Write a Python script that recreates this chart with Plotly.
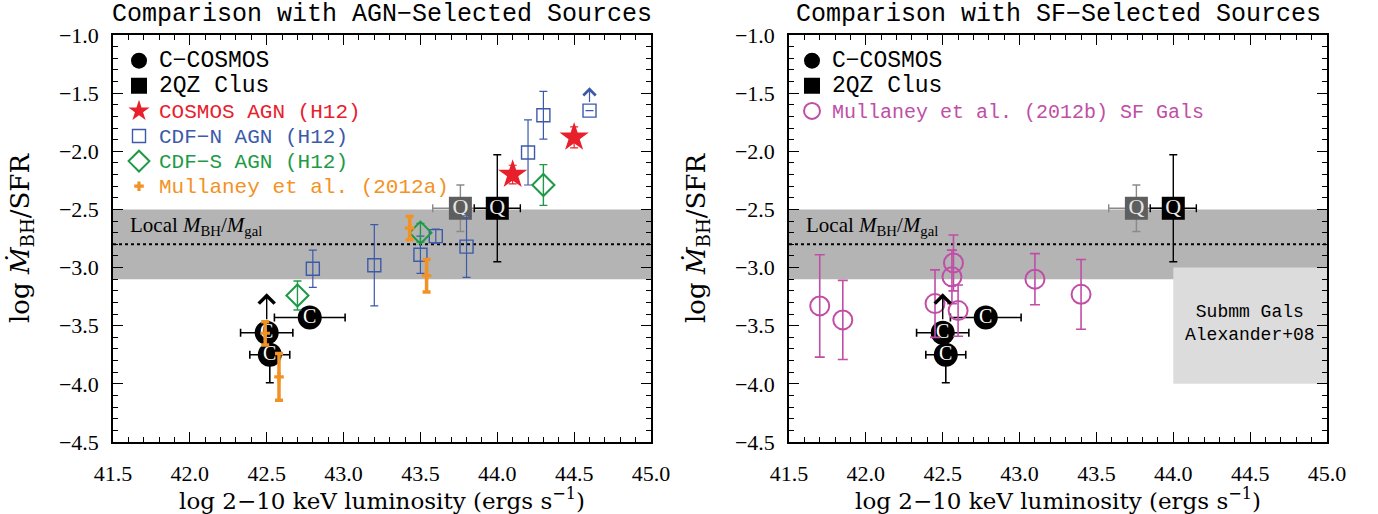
import plotly.graph_objects as go
from plotly.subplots import make_subplots

# ---------------- data ----------------
x_range = [41.5, 45.0]
y_range = [-4.5, -1.0]

# local M_BH/M_gal relation band
local_ratio = -2.8
local_band = [-3.1, -2.5]

# Alexander+08 submm galaxy region
submm_lx = [44.0, 45.0]
submm_ratio = [-4.0, -3.0]

# C-COSMOS
cc_lx = [42.78, 42.50, 42.52]
cc_ratio = [-3.43, -3.56, -3.75]
cc_lx_err = [0.23, 0.17, 0.13]
cc_ratio_err = [0.0, 0.0, 0.24]
cc_limit_idx = [1]
cc_limit_tip = [-3.22]

# 2QZ clustering (grey, black)
q_lx = [43.76, 44.00]
q_ratio = [-2.49, -2.49]
q_lx_err = [0.18, 0.15]
q_ratio_err = [0.20, 0.46]

# COSMOS AGN (H12)
cosmos_lx = [44.10, 44.50]
cosmos_ratio = [-2.20, -1.88]
cosmos_err = [0.08, 0.09]

# CDF-N AGN (H12)
cdfn_lx = [42.80, 43.20, 43.50, 43.60, 43.80, 44.20, 44.30, 44.60]
cdfn_ratio = [-3.01, -2.98, -2.89, -2.73, -2.82, -2.01, -1.69, -1.65]
cdfn_err = [0.16, 0.35, 0.16, 0.06, 0.265, 0.28, 0.205, 0.0]
cdfn_limit_idx = [7]
cdfn_limit_tip = [-1.45]

# CDF-S AGN (H12)
cdfs_lx = [42.70, 43.50, 44.30]
cdfs_ratio = [-3.24, -2.70, -2.29]
cdfs_err = [0.125, 0.08, 0.175]

# Mullaney et al. (2012a)
m12a_lx = [42.49, 42.58, 43.43, 43.54]
m12a_ratio = [-3.565, -3.94, -2.66, -3.07]
m12a_err = [0.10, 0.20, 0.10, 0.14]

# Mullaney et al. (2012b) SF galaxies
m12b_lx = [41.70, 41.85, 42.45, 42.57, 42.56, 42.60, 43.10, 43.40]
m12b_ratio = [-3.33, -3.45, -3.31, -2.96, -3.08, -3.37, -3.10, -3.23]
m12b_err = [0.44, 0.34, 0.29, 0.24, 0.23, 0.22, 0.22, 0.30]

# ---------------- styles ----------------
RED = "#E8202C"
BLUE = "#3C5AAA"
GREEN = "#1E9A46"
ORANGE = "#F39224"
MAGENTA = "#C04EA6"
QGREY = "#5E5E5E"
MONO = "Liberation Mono"
SERIF = "Liberation Serif"
WSERIF = "DejaVu Serif"

W, H = 1378, 514
L_DOM = [113 / W, 651 / W]
R_DOM = [789 / W, 1327 / W]

fig = make_subplots(rows=1, cols=2)


def add_c_cosmos(col, legend, show):
    fig.add_trace(go.Scatter(
        x=cc_lx, y=cc_ratio, mode="markers",
        name="<span style='font-size:23px'>C−COSMOS</span>",
        legend=legend, showlegend=show,
        marker=dict(symbol="circle", size=24, color="black"),
        error_x=dict(type="data", array=cc_lx_err, color="black", thickness=1.6, width=4),
        error_y=dict(type="data", array=cc_ratio_err, color="black", thickness=1.6, width=4),
    ), row=1, col=col)
    fig.add_trace(go.Scatter(
        x=cc_lx, y=cc_ratio, mode="text", text=["C"] * len(cc_lx),
        textfont=dict(family=SERIF, size=20, color="white"),
        showlegend=False, hoverinfo="skip",
    ), row=1, col=col)


def add_q(col, legend, show):
    cols = [(QGREY, "#8A8A8A"), ("black", "black")]
    for i in range(len(q_lx)):
        fc, ec = cols[i]
        fig.add_trace(go.Scatter(
            x=[q_lx[i]], y=[q_ratio[i]], mode="markers",
            name="<span style='font-size:23px'>2QZ Clus</span>",
            legend=legend, showlegend=(show and i == 1),
            marker=dict(symbol="square", size=23, color=fc),
            error_x=dict(type="data", array=[q_lx_err[i]], color=ec, thickness=1.4, width=4),
            error_y=dict(type="data", array=[q_ratio_err[i]], color=ec, thickness=1.4, width=4),
        ), row=1, col=col)
    fig.add_trace(go.Scatter(
        x=q_lx, y=q_ratio, mode="text", text=["Q"] * len(q_lx),
        textfont=dict(family=SERIF, size=22, color="#E6E6E6"),
        showlegend=False, hoverinfo="skip",
    ), row=1, col=col)


# ----- left panel -----
add_c_cosmos(1, "legend", True)
add_q(1, "legend", True)

fig.add_trace(go.Scatter(
    x=cosmos_lx, y=cosmos_ratio, mode="markers",
    name=f"<span style='color:{RED};font-size:21px'>COSMOS AGN (H12)</span>",
    marker=dict(symbol="star", size=22, color=RED, line=dict(width=0)),
    error_y=dict(type="data", array=cosmos_err, color=RED, thickness=1.2, width=4),
), row=1, col=1)

fig.add_trace(go.Scatter(
    x=cdfn_lx, y=cdfn_ratio, mode="markers",
    name=f"<span style='color:{BLUE};font-size:21px'>CDF−N AGN (H12)</span>",
    marker=dict(symbol="square-open", size=13, color=BLUE, line=dict(width=1.4)),
    error_y=dict(type="data", array=cdfn_err, color=BLUE, thickness=1.2, width=4),
), row=1, col=1)

fig.add_trace(go.Scatter(
    x=cdfs_lx, y=cdfs_ratio, mode="markers",
    name=f"<span style='color:{GREEN};font-size:21px'>CDF−S AGN (H12)</span>",
    marker=dict(symbol="diamond-open", size=17, color=GREEN, line=dict(width=2)),
    error_y=dict(type="data", array=cdfs_err, color=GREEN, thickness=1.4, width=4),
), row=1, col=1)

fig.add_trace(go.Scatter(
    x=m12a_lx, y=m12a_ratio, mode="markers",
    name=f"<span style='color:{ORANGE};font-size:21px'>Mullaney et al. (2012a)</span>",
    marker=dict(symbol="cross", size=8, color=ORANGE, line=dict(width=0)),
    error_y=dict(type="data", array=m12a_err, color=ORANGE, thickness=3.5, width=4),
), row=1, col=1)

# ----- right panel -----
add_c_cosmos(2, "legend2", True)
add_q(2, "legend2", True)

fig.add_trace(go.Scatter(
    x=m12b_lx, y=m12b_ratio, mode="markers",
    name=f"<span style='color:{MAGENTA};font-size:20px'>Mullaney et al. (2012b) SF Gals</span>",
    legend="legend2",
    marker=dict(symbol="circle-open", size=19, color=MAGENTA, line=dict(width=2)),
    error_y=dict(type="data", array=m12b_err, color=MAGENTA, thickness=1.6, width=5),
), row=1, col=2)

# ----- shapes: band, relation line, submm box -----
shapes = []
for xr, yr in (("x", "y"), ("x2", "y2")):
    shapes.append(dict(type="rect", xref=f"{xr} domain", yref=yr, x0=0, x1=1,
                       y0=local_band[0], y1=local_band[1], fillcolor="#B4B4B4",
                       line=dict(width=0), layer="below"))
    shapes.append(dict(type="line", xref=f"{xr} domain", yref=yr, x0=0, x1=1,
                       y0=local_ratio, y1=local_ratio,
                       line=dict(color="black", width=2, dash="dot"), layer="below"))
shapes.append(dict(type="rect", xref="x2", yref="y2", x0=submm_lx[0], x1=submm_lx[1],
                   y0=submm_ratio[0], y1=submm_ratio[1], fillcolor="#DCDCDC",
                   line=dict(width=0), layer="below"))

# ----- annotations -----
ann = []
# lower-limit arrows
for xr, yr in (("x", "y"), ("x2", "y2")):
    for k, i in enumerate(cc_limit_idx):
        ann.append(dict(x=cc_lx[i], y=cc_limit_tip[k], ax=cc_lx[i], ay=cc_ratio[i],
                        xref=xr, yref=yr, axref=xr, ayref=yr, text="", showarrow=True,
                        arrowhead=4, arrowsize=2.2, arrowwidth=1.4, arrowcolor="black",
                        startstandoff=12))
for k, i in enumerate(cdfn_limit_idx):
    ann.append(dict(x=cdfn_lx[i], y=cdfn_limit_tip[k], ax=cdfn_lx[i], ay=cdfn_ratio[i],
                    xref="x", yref="y", axref="x", ayref="y", text="", showarrow=True,
                    arrowhead=4, arrowsize=2.0, arrowwidth=1.2, arrowcolor=BLUE,
                    startstandoff=7))
# band labels
for xr, yr in (("x", "y"), ("x2", "y2")):
    ann.append(dict(x=41.6, y=-2.64, xref=xr, yref=yr, xanchor="left", yanchor="middle",
                    text="Local <i>M</i><sub>BH</sub>/<i>M</i><sub>gal</sub>",
                    showarrow=False, font=dict(family=SERIF, size=21, color="black")))
ann.append(dict(x=44.5, y=-3.48, xref="x2", yref="y2", xanchor="center", yanchor="middle",
                text="Submm Gals<br>Alexander+08", showarrow=False,
                font=dict(family=MONO, size=18, color="black")))
# panel titles
for dom, t in ((L_DOM, "Comparison with AGN−Selected Sources"),
               (R_DOM, "Comparison with SF−Selected Sources")):
    ann.append(dict(x=(dom[0] + dom[1]) / 2, y=1, xref="paper", yref="paper",
                    xanchor="center", yanchor="bottom", yshift=4, text=t, showarrow=False,
                    font=dict(family=MONO, size=25, color="black")))

fig.update_layout(
    width=W, height=H, margin=dict(l=0, r=0, t=35, b=72, autoexpand=False),
    paper_bgcolor="white", plot_bgcolor="white",
    shapes=shapes, annotations=ann,
    legend=dict(x=119 / W, y=0.98, xanchor="left", yanchor="top",
                bgcolor="rgba(0,0,0,0)", font=dict(family=MONO, size=17, color="black"),
                itemsizing="trace", tracegroupgap=0),
    legend2=dict(x=792 / W, y=0.98, xanchor="left", yanchor="top",
                 bgcolor="rgba(0,0,0,0)", font=dict(family=MONO, size=17, color="black"),
                 itemsizing="trace", tracegroupgap=0),
)

axis_common = dict(
    showline=True, linecolor="black", linewidth=1.5, mirror="allticks",
    ticks="inside", ticklen=10, tickwidth=1.2, tickcolor="black",
    showgrid=False, zeroline=False, dtick=0.5, tickformat=".1f", automargin=False,
    minor=dict(ticks="inside", ticklen=5, tickwidth=1, dtick=0.1, tickcolor="black", showgrid=False),
)
xtitle = "log 2−10 keV luminosity (ergs s<sup>−1</sup>)"
ytitle = "log <i>Ṁ</i><sub>BH</sub>/SFR"
for n, dom in ((1, L_DOM), (2, R_DOM)):
    sfx = "" if n == 1 else str(n)
    fig.layout["xaxis" + sfx].update(domain=dom, range=x_range, tick0=41.5, ticklabelstandoff=11,
                                      tickfont=dict(family=SERIF, size=22, color="black"),
                                      title=dict(text=xtitle, standoff=7,
                                                 font=dict(family=WSERIF, size=23, color="black")),
                                      **axis_common)
    fig.layout["yaxis" + sfx].update(range=y_range, tick0=-4.5, ticklabelstandoff=8,
                                      tickfont=dict(family=SERIF, size=22, color="black"),
                                      title=dict(text=ytitle, standoff=22,
                                                 font=dict(family=WSERIF, size=26, color="black")),
                                      **axis_common)

fig.write_html("out.html")
